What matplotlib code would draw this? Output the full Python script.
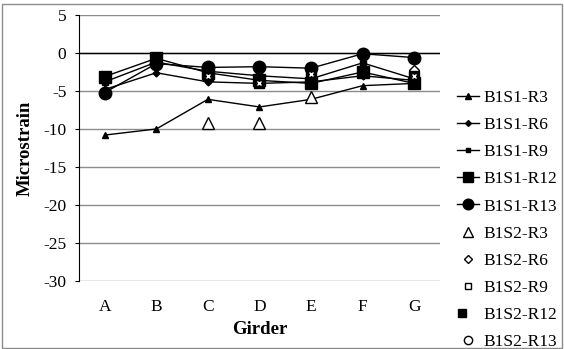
import numpy as np
import matplotlib
matplotlib.use("Agg")
import matplotlib.pyplot as plt
from matplotlib.patches import Rectangle
from matplotlib.legend_handler import HandlerTuple

plt.rcParams['font.family'] = ['Liberation Serif', 'DejaVu Serif']
plt.rcParams['axes.unicode_minus'] = False

nan = np.nan
girders = ['A', 'B', 'C', 'D', 'E', 'F', 'G']
s1_r3 = [-10.8, -10.0, -6.1, -7.1, -6.1, -4.3, -4.0]
s1_r6 = [-4.8, -2.6, -3.8, -4.0, -3.8, -3.0, -3.6]
s1_r9 = [-3.8, -1.2, -2.4, -3.0, -3.4, -1.3, -3.4]
s1_r12 = [-3.1, -0.7, -2.6, -3.6, -4.0, -2.5, -4.0]
s1_r13 = [-5.2, -1.4, -1.9, -1.8, -2.0, -0.1, -0.6]
s2_r3 = [nan, nan, -9.2, -9.2, -5.8, nan, nan]
s2_r6 = [nan, nan, nan, nan, nan, nan, -2.2]
s2_r9 = [nan, nan, nan, nan, nan, nan, nan]
s2_r12 = [nan, nan, -3.0, -4.0, -2.8, nan, -3.0]
s2_r13 = [nan, nan, nan, nan, nan, nan, nan]
yticks = [5, 0, -5, -10, -15, -20, -25, -30]

fig = plt.figure(figsize=(5.64, 3.49), dpi=100)
ax = fig.add_axes([0.140, 0.195, 0.640, 0.762])
x = np.arange(len(girders))

for yv in yticks:
    ax.axhline(yv, color='#8c8c8c', lw=1, zorder=0)
ax.axhline(0, color='black', lw=1, zorder=1)

h = []
h.append(ax.plot(x, s1_r3, 'k-', lw=1, marker='^', ms=5, label='B1S1-R3')[0])
h.append(ax.plot(x, s1_r6, 'k-', lw=1, marker='D', ms=3.5, label='B1S1-R6')[0])
h.append(ax.plot(x, s1_r9, 'k-', lw=1, marker='s', ms=4, label='B1S1-R9')[0])
h.append(ax.plot(x, s1_r12, 'k-', lw=1, marker='s', ms=8, label='B1S1-R12')[0])
h.append(ax.plot(x, s1_r13, 'k-', lw=1, marker='o', ms=9, label='B1S1-R13')[0])
h.append(ax.plot(x, s2_r3, ls='none', marker='^', ms=8, mfc='white', mec='black', mew=1, label='B1S2-R3')[0])
h.append(ax.plot(x, s2_r6, ls='none', marker='D', ms=5, mfc='white', mec='black', mew=1, label='B1S2-R6')[0])
h.append(ax.plot(x, s2_r9, ls='none', marker='s', ms=5, mfc='white', mec='black', mew=1, label='B1S2-R9')[0])
sq = ax.plot(x, s2_r12, ls='none', marker='s', ms=7, mfc='black', mec='black')[0]
xx = ax.plot(x, s2_r12, ls='none', marker='x', ms=3.5, mec='white', mew=1)[0]
h.append((sq, xx))
h.append(ax.plot(x, s2_r13, ls='none', marker='o', ms=7, mfc='white', mec='black', mew=1, label='B1S2-R13')[0])

labels = ['B1S1-R3', 'B1S1-R6', 'B1S1-R9', 'B1S1-R12', 'B1S1-R13',
          'B1S2-R3', 'B1S2-R6', 'B1S2-R9', 'B1S2-R12', 'B1S2-R13']

ax.set_xlim(-0.5, len(girders) - 0.5)
ax.set_ylim(-30, 5)
ax.set_yticks(yticks)
ax.set_yticklabels([str(v) for v in yticks], fontsize=12.5)
ax.set_xticks(x)
ax.set_xticklabels(girders, fontsize=12.5)
ax.tick_params(axis='x', length=0, pad=13)
ax.tick_params(axis='y', length=3, pad=6)
for s in ['top', 'right', 'bottom']:
    ax.spines[s].set_visible(False)
ax.spines['left'].set_color('black')
ax.set_xlabel('Girder', fontsize=13.5, fontweight='bold', labelpad=4)
ax.set_ylabel('Microstrain', fontsize=13.5, fontweight='bold', labelpad=7)

fig.legend(h, labels, loc='upper left', bbox_to_anchor=(0.81, 0.742), frameon=False,
           fontsize=12.5, handlelength=1.25, handletextpad=0.3, labelspacing=0.63,
           borderaxespad=0, borderpad=0, markerscale=0.85,
           handler_map={tuple: HandlerTuple(ndivide=None, pad=0)})

fig.patches.append(Rectangle((0.004, 0.004), 0.992, 0.985, transform=fig.transFigure,
                             fill=False, edgecolor='#8c8c8c', lw=1))

fig.savefig('out.png', dpi=100)
